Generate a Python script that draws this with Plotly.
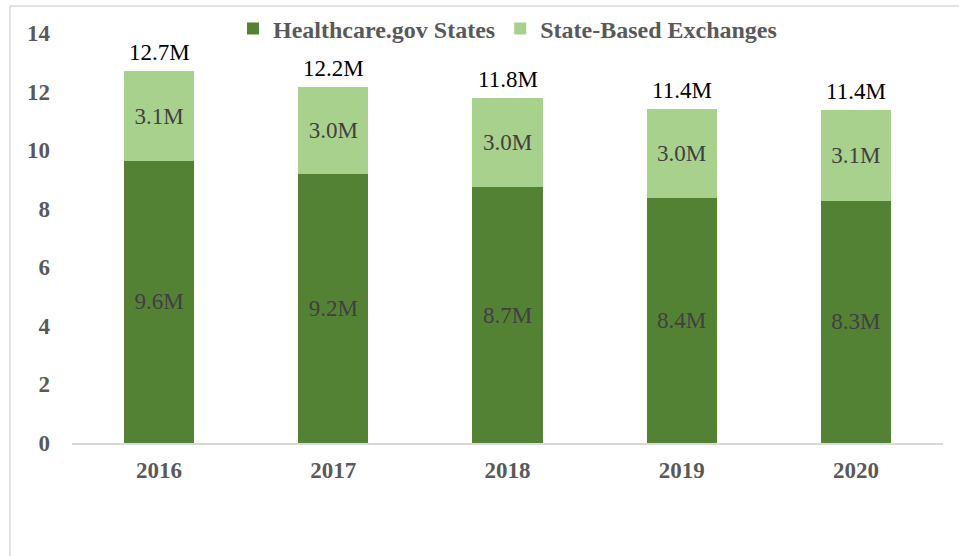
import plotly.graph_objects as go

years = ["2016", "2017", "2018", "2019", "2020"]
healthcare_gov = [9.63, 9.17, 8.74, 8.38, 8.27]
state_based = [3.07, 3.00, 3.03, 3.02, 3.10]
totals = [round(a + b, 2) for a, b in zip(healthcare_gov, state_based)]
y_ticks = [0, 2, 4, 6, 8, 10, 12, 14]

FONT = "Liberation Serif, Times New Roman, serif"
DARK = "#548235"
LIGHT = "#a9d18e"

fig = go.Figure()
fig.add_trace(go.Bar(
    x=years, y=healthcare_gov, name="Healthcare.gov States",
    marker=dict(color=DARK, line=dict(width=0)),
    texttemplate="%{y:.1f}M", textposition="inside", insidetextanchor="middle",
    textfont=dict(family=FONT, size=23, color="#404040"),
    hoverinfo="skip",
))
fig.add_trace(go.Bar(
    x=years, y=state_based, name="State-Based Exchanges",
    marker=dict(color=LIGHT, line=dict(width=0)),
    texttemplate="%{y:.1f}M", textposition="inside", insidetextanchor="middle",
    textfont=dict(family=FONT, size=23, color="#404040"),
    hoverinfo="skip",
))

annotations = [
    dict(x=i, y=t, xref="x", yref="y", text=f"{t:.1f}M", showarrow=False,
         yanchor="bottom", yshift=4,
         font=dict(family=FONT, size=23, color="#000000"))
    for i, t in enumerate(totals)
]

fig.update_layout(
    width=959, height=556,
    barmode="stack", bargap=0.598,
    plot_bgcolor="white", paper_bgcolor="white",
    margin=dict(l=72, r=16, t=33, b=113, autoexpand=False),
    font=dict(family=FONT),
    legend=dict(
        orientation="h", xref="paper", x=0.5, xanchor="center",
        yref="container", y=0.948, yanchor="middle",
        font=dict(family=FONT, size=24, color="#595959", weight="bold"),
        bgcolor="rgba(0,0,0,0)", traceorder="normal",
    ),
    xaxis=dict(
        type="category", categoryorder="array", categoryarray=years,
        range=[-0.5, len(years) - 0.5],
        showline=True, linecolor="#d9d9d9", linewidth=1.5,
        showgrid=False, ticks="", ticklabelstandoff=6,
        tickfont=dict(family=FONT, size=23, color="#595959", weight="bold"),
    ),
    yaxis=dict(
        range=[0, 14], tickvals=y_ticks, showgrid=False, zeroline=False,
        showline=False, ticks="", ticklabelstandoff=21,
        tickfont=dict(family=FONT, size=23, color="#595959", weight="bold"),
    ),
    annotations=annotations,
    shapes=[dict(
        type="rect", xref="paper", yref="paper",
        x0=-0.0712, x1=1.03, y0=-0.3, y1=1.066,
        line=dict(color="#d9d9d9", width=1.5), fillcolor="rgba(0,0,0,0)",
        layer="below",
    )],
)

fig.write_html(
    "out.html",
    config={"displayModeBar": False},
    post_script="document.body.style.margin='0';document.body.style.overflow='hidden';",
)
